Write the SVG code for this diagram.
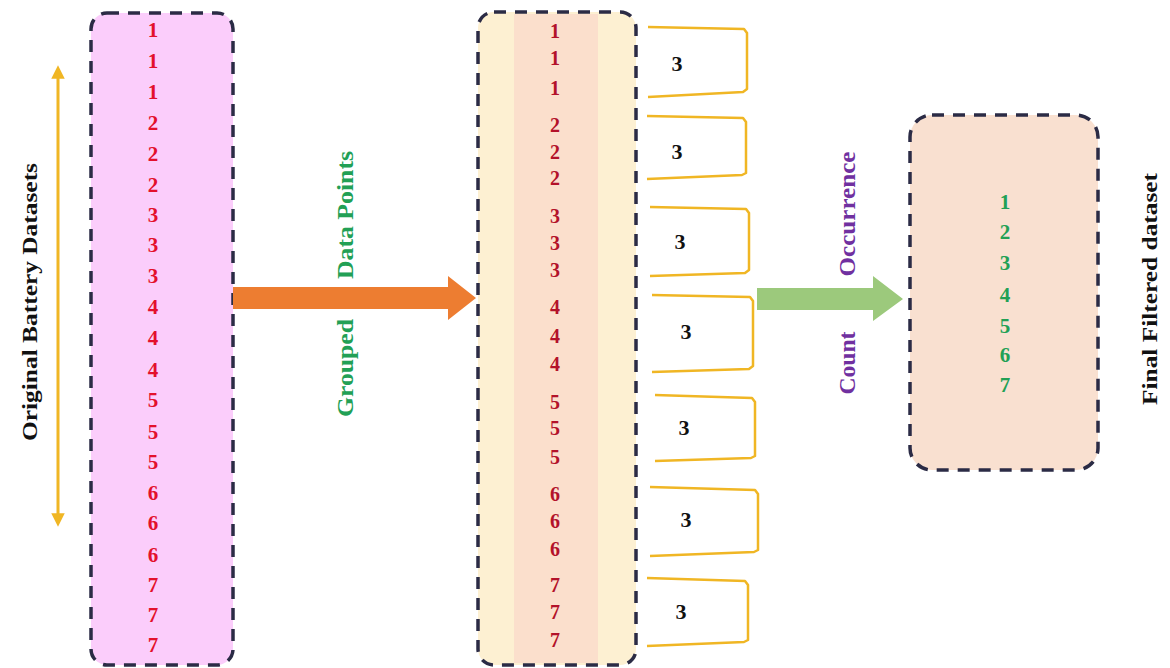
<svg xmlns="http://www.w3.org/2000/svg" width="1170" height="668" viewBox="0 0 1170 668">
<style>
.box{stroke:#2b2b45;stroke-width:3.5;stroke-dasharray:12 9;}
.t{font-family:"Liberation Serif","Times New Roman",serif;font-weight:bold;text-anchor:middle;}
.rn{fill:#e3102c;font-size:21px;}
.dn{fill:#b3122a;font-size:20px;}
.gn{fill:#22a055;font-size:21px;}
.k{fill:#111;font-size:22px;}
.br{fill:none;stroke:#f0b624;stroke-width:2.5;stroke-linejoin:round;}
</style>
<defs>
<marker id="ya" viewBox="0 0 10 10" refX="5" refY="5" markerWidth="4.5" markerHeight="4.5" orient="auto-start-reverse"><path d="M0,0 L10,5 L0,10 z" fill="#f0b624"/></marker>
</defs>
<rect width="1170" height="668" fill="#fff"/>

<g id="original">
<rect class="box" x="91" y="13" width="142" height="652" rx="16" fill="#fbcdfb"/>
<g class="t rn">
<text x="153" y="37">1</text><text x="153" y="68">1</text><text x="153" y="99">1</text>
<text x="153" y="130">2</text><text x="153" y="161">2</text><text x="153" y="192">2</text>
<text x="153" y="222">3</text><text x="153" y="252">3</text><text x="153" y="283">3</text>
<text x="153" y="314">4</text><text x="153" y="345">4</text><text x="153" y="377">4</text>
<text x="153" y="407">5</text><text x="153" y="439">5</text><text x="153" y="469">5</text>
<text x="153" y="500">6</text><text x="153" y="530">6</text><text x="153" y="562">6</text>
<text x="153" y="592">7</text><text x="153" y="622">7</text><text x="153" y="652">7</text>
</g>
</g>

<g id="label-original">
<line x1="58" y1="72" x2="58" y2="520" stroke="#f0b624" stroke-width="3" marker-start="url(#ya)" marker-end="url(#ya)"/>
<text class="t k" transform="translate(37,302) rotate(-90)" font-size="25" textLength="278" lengthAdjust="spacingAndGlyphs">Original Battery Datasets</text>
</g>

<g id="grouped">
<rect x="478" y="12" width="158" height="653" rx="16" fill="#fdf0d2"/>
<rect x="514" y="14" width="84" height="649" fill="#fbdfcc"/>
<rect class="box" x="478" y="12" width="158" height="653" rx="16" fill="none"/>
<g class="t dn">
<text x="555" y="38">1</text><text x="555" y="65">1</text><text x="555" y="95">1</text>
<text x="555" y="132">2</text><text x="555" y="159">2</text><text x="555" y="185">2</text>
<text x="555" y="223">3</text><text x="555" y="250">3</text><text x="555" y="277">3</text>
<text x="555" y="314">4</text><text x="555" y="343">4</text><text x="555" y="371">4</text>
<text x="555" y="409">5</text><text x="555" y="435">5</text><text x="555" y="464">5</text>
<text x="555" y="501">6</text><text x="555" y="528">6</text><text x="555" y="556">6</text>
<text x="555" y="592">7</text><text x="555" y="619">7</text><text x="555" y="647">7</text>
</g>
</g>

<g id="counts">
<path class="br" d="M648,27 L744,29 L747,33 L747,89 L743,92 L648,97"/>
<path class="br" d="M647,116 L743,118 L746,122 L746,173 L742,175 L647,179"/>
<path class="br" d="M650,207 L746,209 L749,213 L749,270 L745,273 L650,276"/>
<path class="br" d="M652,295 L750,297 L753,301 L753,366 L749,369 L652,372"/>
<path class="br" d="M655,395 L752,398 L755,402 L755,456 L751,458 L655,461"/>
<path class="br" d="M650,487 L755,490 L758,494 L758,550 L754,552 L650,556"/>
<path class="br" d="M647,578 L745,581 L748,585 L748,640 L744,642 L647,646"/>
<g class="t k">
<text x="677" y="71">3</text>
<text x="677" y="159">3</text>
<text x="680" y="249">3</text>
<text x="686" y="339">3</text>
<text x="684" y="435">3</text>
<text x="686" y="527">3</text>
<text x="681" y="619">3</text>
</g>
</g>

<g id="final">
<rect class="box" x="910" y="115" width="188" height="355" rx="22" fill="#f9e0d0"/>
<g class="t gn">
<text x="1005" y="209">1</text><text x="1005" y="239">2</text><text x="1005" y="270">3</text>
<text x="1005" y="302">4</text><text x="1005" y="333">5</text><text x="1005" y="362">6</text>
<text x="1005" y="392">7</text>
</g>
</g>
<text class="t k" transform="translate(1157,289) rotate(-90)" font-size="25" textLength="232" lengthAdjust="spacingAndGlyphs">Final Filtered dataset</text>

<g id="connectors">
<path d="M233,287 L448,287 L448,276 L476,298 L448,320 L448,309 L233,309 z" fill="#ed7d31"/>
<path d="M757,288 L873,288 L873,276 L903,299 L873,321 L873,310 L757,310 z" fill="#9cc97c"/>
<text class="t" fill="#22a055" font-size="24" transform="translate(353,215) rotate(-90)" textLength="128" lengthAdjust="spacingAndGlyphs">Data Points</text>
<text class="t" fill="#22a055" font-size="24" transform="translate(353,368) rotate(-90)" textLength="98" lengthAdjust="spacingAndGlyphs">Grouped</text>
<text class="t" fill="#7030a0" font-size="24" transform="translate(855,214) rotate(-90)" textLength="125" lengthAdjust="spacingAndGlyphs">Occurrence</text>
<text class="t" fill="#7030a0" font-size="24" transform="translate(855,363) rotate(-90)" textLength="63" lengthAdjust="spacingAndGlyphs">Count</text>
</g>
</svg>
